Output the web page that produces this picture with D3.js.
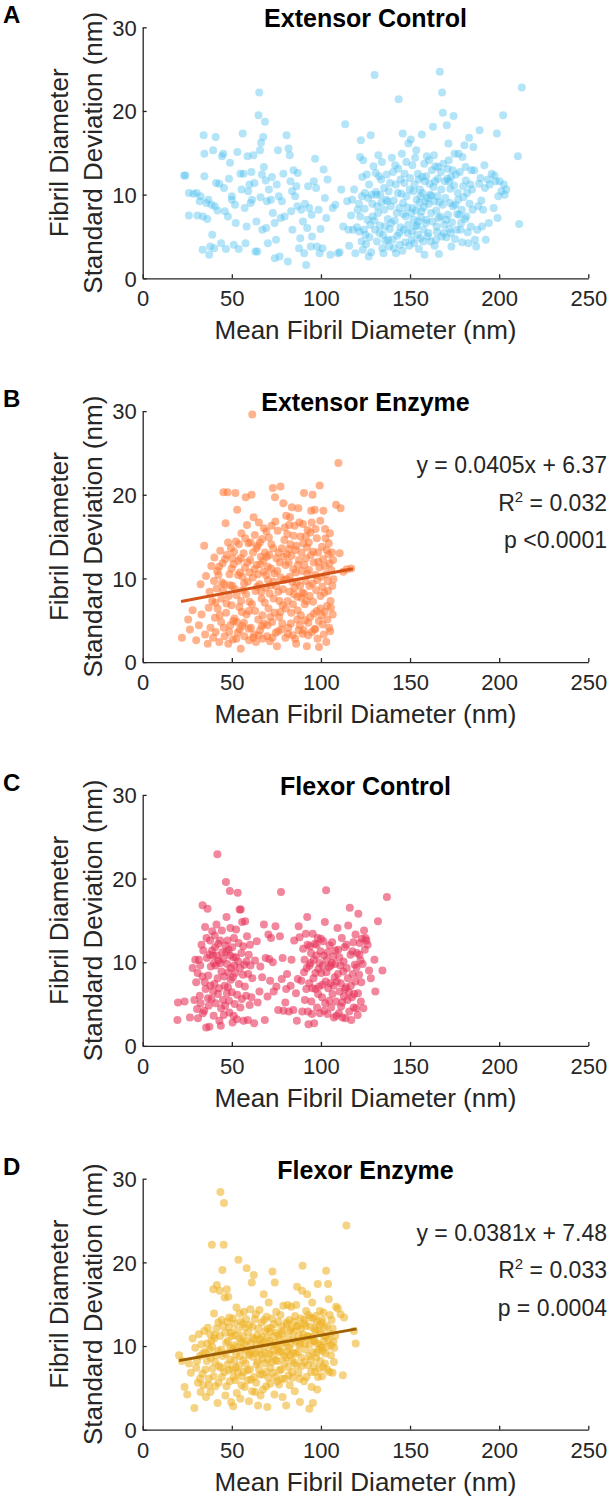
<!DOCTYPE html>
<html>
<head>
<meta charset="utf-8">
<script src="https://cdn.jsdelivr.net/npm/d3@7"></script>
<style>
  body { margin: 0; background: #fff; }
  text { font-family: "Liberation Sans", Arial, sans-serif; }
</style>
</head>
<body>
<svg id="chart" width="614" height="1500"></svg>
<script>
// axis ticks
const xTicks = [0, 50, 100, 150, 200, 250];
const yTicks = [0, 10, 20, 30];

const panelLetters = ["A", "B", "C", "D"];
const panelTitles = ["Extensor Control", "Extensor Enzyme", "Flexor Control", "Flexor Enzyme"];

// [mean diameter, std dev]
const extensorControl = [
  [23.2,12.3],[24,12.3],[25.9,10.2],[25.9,7.5],[30.3,10.2],[30.7,7.5],[32,9.2],[32.5,9.8],[33.8,7.4],[34.2,17.1],
  [34.6,12.2],[33.6,3.4],[34.6,14.9],[35.7,9],[36.8,9.4],[37.3,2.8],[37.9,3.8],[38.6,8.8],[39,5.2],[39.5,15.3],
  [40.9,16.9],[40.4,8.6],[40.1,3.6],[41.2,11.4],[43,11.3],[44.5,14.6],[45.2,14.9],[45.6,10.8],[46.1,8],[46.7,3.5],
  [47.8,7.4],[49,13.8],[50,9.8],[50,9.4],[51.1,4],[51.8,8.8],[53.1,15.1],[53.9,3.5],[54.8,12.5],[55.5,10.6],
  [56.1,17.3],[56.6,12.5],[57.7,4.2],[58.3,6.2],[58.8,14.6],[59.2,10.4],[59.9,11.2],[60.5,9],[61.4,9.4],[62.1,14.7],
  [62.7,11.4],[63.2,3.2],[64.3,3.2],[65,19.5],[65.4,22.2],[65.8,15.3],[66.4,16.2],[66.9,12.4],[67.1,5.8],[67.6,16.9],
  [68,13.3],[68.6,18.7],[69.3,6],[69.7,9.2],[70.2,4.2],[70.8,10.6],[71.9,9.4],[73,7.8],[74.1,2.4],[74.8,4.6],
  [75.2,11.2],[75.9,15.3],[76.8,2.6],[77.4,7.2],[78.1,9.2],[78.9,12.5],[80.7,17.1],[81.4,2],[81.8,15.5],[82.5,14.7],
  [82.9,11.6],[83.3,8],[84,5.8],[84.6,12.9],[85.5,9.8],[86.2,11],[86.8,8.6],[87.7,3.6],[88.4,4.8],[89,8.2],
  [89.9,6.8],[90.6,3],[91.7,1.6],[92.3,6],[92.8,11],[93.4,8.4],[94.3,3.8],[95,5],[96,11.6],[96.7,14.3],
  [97.8,3.8],[98.7,8.2],[99.3,3],[100.9,3.6],[101.5,13],[102.2,9.6],[103,7.2],[103.7,11.8],[105.3,2.8],[106.6,8.4],
  [108.1,8.8],[109.6,3],[110.5,3.1],[111.4,10.6],[112.5,6.2],[113.6,18.4],[114.7,9.2],[115.4,5.8],[115.8,3.9],[116.9,7.5],
  [117.5,9.4],[118,5.8],[118.6,10.6],[119.3,3],[120.6,8.2],[121.3,8.9],[121.9,14.5],[122.4,16.5],[122.8,4.4],[123.5,3.4],
  [123.7,14.1],[124.1,5.8],[124.6,10.2],[125,5.2],[125.7,12.4],[126.1,7],[126.8,2.6],[127.2,4.9],[127.9,17.1],[128.5,10],
  [129,7.4],[130.1,24.3],[130.3,5.8],[130.7,12.6],[131.1,10],[131.6,8.6],[132.2,14.7],[132.9,5.4],[133.3,10],[133.8,11.8],
  [134.4,3.6],[135.1,3],[135.5,8.2],[136,6.2],[136.6,9.4],[137.3,9.2],[137.7,4.6],[138.2,3.8],[138.8,11.4],[139.5,6.6],
  [140.4,12.7],[141,3.6],[141.7,13.5],[142.1,3],[142.5,7.8],[143.2,10.2],[143.6,21.4],[143.9,5.4],[144.3,4],[144.7,11.8],
  [145.4,14.9],[145.9,17.3],[146.1,9],[146.5,5.8],[146.9,12.5],[147.6,7.4],[148,9.8],[148.7,5.4],[149.1,16.1],[149.8,10.6],
  [150.4,16.6],[150.9,4.6],[151.3,13.5],[151.5,8.4],[152,7],[152.4,11.2],[153.1,6.2],[153.5,15.3],[153.7,9.4],[154.2,5.2],
  [154.6,6.8],[154.8,11.8],[155.3,9],[155.7,4.8],[155.9,9.8],[156.4,8],[156.6,17.2],[157,10.2],[157.5,5.8],[157.9,13.7],
  [158.1,2.8],[158.6,9.2],[159,12.2],[159.2,7],[159.7,9.6],[160.3,5.4],[160.7,14.1],[161.2,10],[161.8,7.8],[162.3,12.9],
  [162.9,18.1],[163.4,14.7],[163.6,9.2],[164,11.6],[164.5,4.6],[164.9,6.2],[165.4,9.8],[165.8,13.3],[166.2,2.9],[166.7,24.7],
  [167.1,7.4],[167.5,10.6],[168,22.2],[168.4,19.8],[168.9,5.4],[169.5,11.6],[170.2,7],[170.6,18.3],[171.1,13.1],[171.5,16.1],
  [171.9,11.6],[172.4,9],[172.8,5.4],[173.2,3.8],[173.9,12.9],[174.4,19.4],[175,14.9],[175.4,8.8],[176.1,5.8],[176.8,10.2],
  [177.2,14.9],[177.6,7.6],[178.3,5.8],[179,8.2],[179.4,14.5],[179.8,11],[180.5,15.9],[181.1,13.3],[181.6,7.4],[182,10.2],
  [182.7,4.2],[183.1,16.8],[183.8,11.2],[184.4,12.9],[185.1,8.2],[185.5,15.7],[186.4,4.6],[187.1,3.8],[187.7,5.8],[188.2,8.6],
  [189,17.7],[189.5,12],[190.4,6.2],[191,8.2],[191.7,13.5],[192.5,4.6],[193.6,11.8],[194.7,11.2],[195.8,12.5],[196.9,8.4],
  [198,11.6],[198.7,17.3],[199.1,7.2],[200.2,11.6],[201.3,10.4],[202.2,19.5],[203.1,10],[204,10.6],[210.5,14.6],[211.2,6.5],
  [212.7,22.8]
];
const extensorControlMore = [
  [120.2,6.1],[121.5,5.6],[122,7.4],[123,9.8],[123.2,12.1],[124.5,8.3],[125.3,4.1],[126.5,9.6],[127,11.2],[127.6,6.4],
  [128.2,3.1],[128.8,8.9],[129.5,13.4],[130,6.9],[130.8,10.3],[131.4,4.4],[132,7.8],[132.6,12.2],[133,6.3],[133.9,9.1],
  [134.2,13.9],[134.8,5.2],[135.4,10.8],[136.2,4.5],[136.9,12.4],[137.5,7.1],[138,10.4],[138.6,5.9],[139.2,8.6],[139.8,14.4],
  [140.2,4.6],[140.9,9.3],[141.4,6.9],[142,11.2],[142.8,5.1],[143.4,13.1],[144,8.4],[144.6,6.1],[145.1,10.1],[145.7,3.3],
  [146.3,7.7],[146.8,11.4],[147.3,4.3],[147.9,13.9],[148.4,8.5],[148.9,6.4],[149.5,3.9],[150,12],[150.6,7.8],[151,5.6],
  [151.8,10.4],[152.2,4.2],[152.8,14.4],[153.3,8.1],[153.9,6.3],[154.4,12.5],[155,3.5],[155.5,10.6],[156,7.3],[156.8,12.1],
  [157.3,4.4],[157.7,8.5],[158.3,11.6],[158.8,6.6],[159.4,14.6],[159.9,5],[160.5,8.9],[161,11.3],[161.5,4.4],[162,9.9],
  [162.6,6.8],[163.1,10.9],[163.8,3.9],[164.2,13.4],[164.7,8.1],[165.1,5.5],[165.6,11.9],[166,7.2],[166.5,9.1],[167.3,12.7],
  [167.8,5],[168.2,8.8],[168.6,13.7],[169.2,6.4],[169.8,9.6],[170.4,4.9],[170.9,11.9],[171.3,7.6],[171.7,14.1],[172.1,5.9],
  [172.6,10.7],[173,12.1],[173.5,6.7],[174.1,8.6],[174.7,11.1],[175.2,4.7],[175.7,12.4],[176.4,7.7],[177,9.4],[177.9,12.7],
  [178.6,6.6],[179.2,4.3],[180,9.7],[180.8,7.1],[181.3,11.7],[182.3,5.5],[183.4,8.9],[184.1,6.2],[184.8,10.6],
  [28.5,10.1],[36.2,7.1],[42,8.1],[44,4.2],[48.4,11.9],[52.2,6.6],[57.2,8.4],[61,12.7],[63.8,6.8],[66.1,9.7],
  [69,11.7],[72.5,12.1],[74,6.6],[76.4,9.8],[79.6,7.4],[83.8,10.4],[87,12.6],[91,8.9],[94.8,7.6],[97.3,10.8],[99.8,5.9],
  [186,12.9],[188.7,11.3],[190,9.3],[192,10.8],[194.2,6.6],[197.4,12.3],[199.5,9.8],[202.6,11.2]
];

const extensorEnzyme = [
  [22,2.9],[25.5,5.1],[26.5,3.9],[28,6.2],[30,2.6],[31.5,4.4],[32.5,9.3],[33,5.7],[34.5,13.9],[35,3.3],
  [35.5,10.3],[36.5,2.2],[37,6.5],[37.5,8.4],[38,4.1],[38.5,11.5],[39,7.3],[39.5,2.9],[40,9.7],[40.2,12.5],
  [40.5,5.3],[41,3.6],[41.5,8.8],[42,6.4],[42.5,10.4],[43,2.4],[43.5,13.3],[44,4.8],[44.2,7.6],[44.8,11.8],
  [45.3,20.3],[45.7,9.3],[46,3.1],[46.5,16.6],[46.8,5.9],[47.2,12.8],[47.6,20.3],[48,2.2],[48.3,7.9],[48.7,10.5],
  [49.2,4.4],[49.5,13.6],[49.8,6.8],[50.3,9.1],[50.6,2.7],[51,11.7],[51.5,5.2],[52,20.2],[52.3,14.4],[52.7,8],
  [53,18.2],[53.3,3.5],[53.8,12.1],[54.2,6.6],[54.6,10.7],[55,1.6],[55.4,15.4],[55.8,4.3],[56.2,8.6],[56.6,13],
  [57,3.1],[57.4,11.3],[57.8,19.7],[58.2,5.7],[58.5,16.4],[58.9,9.6],[59.3,14.2],[59.7,2.6],[59.9,7.2],[60.3,12.2],
  [60.7,4.1],[61.1,20],[61.5,29.6],[61.8,10.1],[62.2,17.3],[62.5,3.3],[62.9,15.2],[63.3,8.5],[63.6,2.4],[64,11.6],
  [64.4,13.9],[64.8,5.1],[65.2,16.7],[65.5,9.3],[65.9,3.8],[66.3,12.6],[66.7,7.6],[67,14.7],[67.4,2.8],[67.8,10.8],
  [68.2,4.6],[68.6,13.1],[69,8.9],[69.4,15.6],[69.8,3.1],[70.2,11.4],[70.6,6.4],[71,12.8],[71.4,2.5],[71.8,9.2],
  [72.2,14.1],[72.6,4.8],[73,20.8],[73.4,7.6],[73.8,10.6],[74.2,19.7],[74.6,3.5],[75,12.4],[75.3,1.9],[75.7,15.7],
  [76.1,8.4],[76.5,5.4],[76.9,11.9],[77.3,21],[77.7,3.9],[78.1,13.6],[78.5,6.8],[78.9,19],[79.3,9.8],[79.7,16.1],
  [80.1,2.9],[80.5,17.5],[80.9,12.9],[81.3,7.3],[81.7,4.1],[82.1,16.4],[82.5,10.2],[82.9,14.1],[83.3,5.9],[83.7,18.5],
  [84.1,3.2],[84.5,11.1],[84.9,8.1],[85.3,16.3],[85.7,13.4],[86.1,2.2],[86.5,9.5],[86.9,6.2],[87.3,18.4],[87.7,12.2],
  [88.1,4.4],[88.5,15],[88.9,7.7],[89.3,10.9],[89.7,3.4],[90.1,14.2],[90.5,20.2],[90.9,6.9],[91.3,9.7],[91.7,12.4],
  [92.1,1.9],[92.5,15.8],[92.9,4.7],[93.3,11],[93.7,7.9],[94.1,15.5],[94.5,18.1],[94.9,3.6],[95.3,20],[95.7,13.2],
  [96.1,5.8],[96.5,18.2],[96.9,10.4],[97.3,8.6],[97.7,14.8],[98.1,2.8],[98.5,12],[98.9,1.8],[99.3,21.1],[99.7,6.4],
  [100.2,10.2],[100.6,13.8],[101,4.5],[101.4,18.1],[101.8,8.3],[102.2,11.5],[102.6,14.8],[103,2.4],[103.4,6.7],[103.8,9.7],
  [104.2,12.9],[104.6,4.1],[105,15.4],[105.4,7.3],[105.8,11],[106.2,13.1],[106.6,5.7],[107,9.9],[108.5,18.8],[109.8,23.8],
  [110.5,13],[111,18.4],[112.5,10.8],[114.5,11.1],[117,11.2],
  [45.1,8.6],[50.4,12.4],[55.2,7.3],[59.6,6.1],[64.7,10.5],[70.3,9.8],[74.8,9.1],[80.2,11.6],[85.1,8.9],[90.4,8.2],
  [95.2,9.4],[99.8,7.9],[61.9,13.1],[72.3,16.3],[82.2,13.5],[92.2,13.7],[56.9,9.4],[66.8,4.3],[77.2,6],[86.7,5.1],
  [96.8,4],[102.3,15.9],[52.8,4.8],[42.9,11.4]
];
const extensorEnzymeMore = [
  [40.8,7.1],[41.8,10.9],[43.2,5.6],[44.5,9.5],[45.5,4.1],[46.2,12.3],[47,7],[47.9,14.3],[48.5,3.6],[49,9.2],
  [49.9,11.2],[50.8,4.9],[51.3,13.2],[51.8,8.7],[52.5,2.8],[53.5,10.4],[54,14.1],[54.4,3.9],[55,12.4],[55.6,6],
  [56,10.2],[56.8,4.7],[57.5,14.8],[58,8.1],[58.7,11.9],[59.5,4],[60,10.7],[60.5,14.3],[61.3,6.9],[62,2.9],
  [62.7,11.1],[63.1,6.1],[63.8,13.6],[64.2,9],[65,3.2],[65.7,14.3],[66,11.7],[66.5,8.4],[67.2,5.6],[67.6,12.1],
  [68,16],[68.5,7.1],[69.2,10.4],[69.6,12.6],[70,4.4],[70.8,14.9],[71.2,8.2],[71.6,5.4],[72,11.2],[72.8,2.9],
  [73.2,13.6],[73.6,9.6],[74,5.9],[74.4,16.8],[75.5,10.9],[75.9,3.7],[76.3,13.1],[76.7,7.3],[77.5,10.1],[78.3,4.6],
  [78.7,8.7],[79.1,12.6],[79.5,14.6],[80.3,6.4],[80.7,9.9],[81.1,15.3],[81.5,3.4],[81.9,11.9],[82.3,8.4],[82.7,17.3],
  [83.1,4.6],[83.5,12.7],[83.9,9.6],[84.3,6.9],[84.7,15.1],[85.5,2.8],[85.9,10.7],[86.3,13.9],[86.8,7.8],[87.1,11.6],
  [87.5,3.8],[87.9,16.7],[88.3,9.1],[88.7,5.6],[89.1,13.1],[89.5,8.3],[89.9,16.5],[90.3,3.8],[90.7,11.6],[91.1,5],
  [91.5,15],[91.9,7.3],[92.4,10.6],[92.8,3.2],[93.2,14.3],[93.6,9.1],[94,5.4],[94.4,12.8],[94.8,16.7],[95.6,7.2],
  [96,11.9],[96.4,3.9],[97,15.9],[97.6,6.1],[98,9.8],[98.4,13.1],[98.8,4.9],[99.2,11.3],[99.6,16.9],[100.4,5.6],
  [100.8,9],[101.2,12.3],[101.6,3.3],[102,6],[102.8,10.5],[103.2,13.4],[103.6,5.1],[104,8.5],[104.4,14.2],[104.8,11.8],
  [105.2,3.7],[105.6,6.5],[106.4,9.1],[106.8,12.2]
];

const flexorControl = [
  [19.5,3.1],[19.8,5.2],[23.5,5.3],[26.5,3.4],[28,9.3],[29,5.5],[29.5,10.3],[30,7.6],[30.5,4.4],[31,3.3],
  [31.5,10.3],[32,6],[32.5,5.1],[33,12.1],[33.5,8.3],[33.6,16.8],[34,11.4],[34.5,4.2],[35,14.2],[35.3,6.8],
  [35.6,2.2],[36,10.5],[36.4,16.4],[36.8,8.4],[37,4.8],[37.4,2.3],[37.8,12.6],[38.2,9.5],[38.6,5.6],[39,13.7],
  [39.4,10.8],[39.8,3.6],[40.2,7.4],[40.6,11.8],[41,9.6],[41.4,14.5],[41.9,22.9],[42.2,6.2],[42.6,10.2],[43,3],
  [43.4,12.6],[43.8,2.4],[44.2,8.9],[44.6,11.2],[45,5.5],[45.5,3.7],[46,7.2],[46.4,12],[46.7,19.6],[47,15.4],
  [47.4,9.8],[47.8,7],[48.2,11.5],[48.6,4],[48.9,18.5],[49.2,14.1],[49.6,9.3],[50,6.4],[50.4,2.8],[50.8,10.6],
  [51.2,12.9],[51.6,5],[52,8.7],[52.4,13.9],[52.8,3.2],[53.3,18.3],[53.6,10.1],[54,7.4],[54.4,16.3],[54.8,4.6],
  [55,16.3],[55.4,11.1],[55.8,14.8],[56.2,8.5],[56.6,3],[57,9.7],[57.5,14.9],[58,6],[58.5,13.1],[59,3.1],
  [59.5,10.9],[60,4.9],[60.5,9.6],[61,5.8],[61.5,8.1],[62.5,2.7],[63,10.2],[64,12.5],[64.5,5.2],[65.5,6.5],
  [66,9.5],[67,8.2],[68,14.5],[68.5,3.1],[69,10.5],[70,5.9],[70.5,13.3],[71,10.4],[71.5,7.8],[72,12.9],
  [73,10],[73.5,6.5],[74.5,14.3],[75,7.1],[76,4.3],[77,13.1],[77.6,18.4],[78,8],[78.5,10.5],[79,4.2],
  [80,5.2],[80.5,6.8],[81,8.6],[82,4.1],[83,7.2],[83.5,10.3],[84.5,4.3],[85,12.6],[86,6.3],[86.5,3],
  [87,8],[87.5,14.3],[88,13],[89,7.8],[89.5,4.1],[90,11.6],[90.5,8.8],[91,5.5],[91.5,13.4],[92,9.3],
  [92.3,15.4],[92.7,4.1],[93,2.6],[93.4,7.5],[93.8,11.9],[94.2,9.9],[94.6,5.3],[95,3.8],[95.4,13.4],[95.8,8.1],
  [96.2,2.7],[96.6,12.2],[97,6.8],[97.4,10.8],[97.8,4.6],[98.2,12.9],[98.6,9.2],[99,7.1],[99.4,3.9],[99.8,11.3],
  [100.2,8.7],[100.6,5.8],[101,9.6],[101.4,12.5],[101.8,4.2],[102.2,14.8],[102.6,7.7],[102.9,18.6],[103.3,10.3],[103.7,3.8],
  [104.1,6.9],[104.5,9.4],[104.9,12],[105.3,7.5],[105.7,4.6],[106.1,9.9],[106.5,6.2],[106.9,10.7],[107.3,3.4],[107.7,8.2],
  [108.1,11.4],[108.5,5.3],[108.9,7.7],[109.3,14.1],[109.7,11.5],[110.1,3.9],[110.5,6.5],[110.9,9.6],[111.3,4.7],[111.7,12.9],
  [112.1,3.4],[112.5,8.9],[112.9,5.9],[113.3,11.8],[113.7,3.3],[114.1,7],[114.5,9.3],[114.9,5.5],[115.3,14.4],[115.7,6.4],
  [116.2,16.5],[116.6,10.9],[117,3.1],[117.4,5.8],[117.8,8.6],[118.2,12.4],[118.6,6.2],[119,9.7],[119.4,13.3],[119.8,4.5],
  [120.2,11.1],[120.6,3.7],[121,15.8],[121.4,8.5],[121.8,12.3],[122.2,10.2],[122.6,7.6],[123,12.8],[123.4,9.8],[123.8,4.5],
  [124.2,13.8],[124.6,11.5],[125,12.9],[125.5,12.6],[126.2,12.1],[127,9],[128,8.1],[130,10.3],[130.5,6.5],[132,14.9],
  [134.5,9],[137,17.8]
];
const flexorControlMore = [
  [30.8,8.7],[32.3,9.6],[33.8,3.9],[34.8,7.6],[35.8,12.9],[36.6,5.7],[37.6,10.9],[38,7.2],[38.9,11.4],[39.5,6.5],
  [40,9.9],[40.4,13.2],[40.9,5.1],[41.6,10.8],[42,8.1],[42.4,12.2],[42.9,6.9],[43.6,9.9],[44,4.5],[44.4,13.8],
  [45.2,10.4],[45.8,8.3],[46.2,4.8],[46.8,11.2],[47.2,6.3],[47.6,12.6],[48,8.8],[48.4,5.4],[49,10.8],[49.4,7.9],
  [50.2,11.8],[50.6,8.2],[51,3.6],[51.4,9.6],[52.2,10.6],[53,6.1],[53.8,12.3],[54.6,9.3],[55.6,5.6],[56.4,11.9],
  [57.3,7.1],[58.2,10.1],[59.2,8.6],[60.2,12.1],
  [90.8,10.3],[91.8,6.8],[92.5,12.1],[93.6,9.6],[94.4,11.1],[95.2,6.9],[96,10.3],[96.9,8.7],[97.6,12.1],[98.4,6.2],
  [99.2,9.9],[100,12.8],[100.8,7.3],[101.6,10.8],[102.4,5.1],[103.1,8.8],[103.9,11.2],[104.7,5.4],[105.5,9.6],[106.3,12.4],
  [107.1,7.2],[107.9,9.8],[108.7,3.6],[109.5,8.6],[110.3,10.6],[111.1,7.5],[111.9,5.2],[112.7,10.1],[113.5,6.8],[114.3,12.1],
  [115.1,8.1],[115.9,4.1],[116.8,7.2],[117.6,11.3],[118.4,4.6],[119.2,7.7],[120,9.4],[120.8,6.3],[121.6,10.9],[122.4,5.3]
];

const flexorEnzyme = [
  [20.4,8.9],[22,8.2],[23.5,5.1],[25,4.2],[26,7.9],[27,6.8],[28,10.9],[29,2.6],[29.5,9.8],[30,7.4],
  [31,5.6],[31.5,11.4],[32,8.8],[32.5,4.5],[33,10.2],[33.5,6.7],[34,5.3],[34.5,11.8],[35,9.3],[35.5,3.9],
  [36,8.2],[36.5,12.2],[37,6.1],[37.5,9.6],[38,4.5],[38.5,10.6],[38.8,22.1],[39.2,7.3],[39.6,16.8],[40,13.9],
  [40.4,11.3],[40.8,5.2],[41.2,8.9],[41.6,17.3],[42,3.2],[42.4,12.8],[42.8,7.6],[43.2,16.6],[43.6,28.4],[44,9.6],
  [44.4,6.3],[44.7,19.1],[45.1,12.4],[45.4,22.1],[45.6,27.1],[46,15.8],[46.4,4.1],[46.8,10.4],[47.2,16.8],[47.6,7.8],
  [48,15.9],[48.4,12.2],[48.8,5.8],[49.2,9.8],[49.6,3.3],[50,11.2],[50.4,7.2],[50.8,2.8],[51.2,10.1],[51.6,12.7],
  [52,5.9],[52.4,9],[52.8,4.4],[53.2,11.9],[53.7,20.3],[54,7.6],[54.4,13.9],[54.8,3.7],[55.2,10.5],[55.6,6.4],
  [56,12.6],[56.4,8.3],[56.8,14.1],[57.2,5.1],[57.6,9.5],[58,13.2],[58.3,19.3],[58.8,7.1],[59.2,11.6],[59.6,3.4],
  [60,9.1],[60.4,14.4],[60.8,6],[61.2,17.6],[61.6,12.3],[62,8.7],[62.3,18.5],[62.7,10.8],[63.1,4.5],[63.5,13.8],
  [63.9,7.8],[64.3,11.3],[64.7,2.9],[65.1,9.4],[65.5,14.3],[65.9,6.6],[66.3,10.2],[66.7,12.8],[67.1,8.5],[67.5,4.8],
  [67.9,16.2],[68.3,9.9],[68.7,11.8],[69.1,6.9],[69.5,13.5],[69.9,2.7],[70.3,8.4],[70.7,15.2],[71.1,10.6],[71.5,5.5],
  [71.9,12.2],[72.3,8.1],[72.8,18.9],[73.1,9.5],[73.5,11.2],[73.9,4.2],[74.1,17.6],[74.5,6.3],[74.9,14.1],[75.3,10.1],
  [75.7,8.2],[76.1,12.9],[76.5,5.4],[76.9,9.3],[77.3,13.7],[77.7,7.2],[78.1,11.5],[78.5,3.9],[78.9,14.8],[79.3,8.8],
  [79.7,6.1],[80.1,10.4],[80.5,2.9],[80.9,12.6],[81.3,14.9],[81.7,7.5],[82.1,9.8],[82.5,5.3],[82.9,11.9],[83.3,14.7],
  [83.7,8.3],[84.1,6.2],[84.5,10.8],[84.9,12.9],[85.3,4.6],[85.7,9.1],[86.1,14.9],[86.6,17.1],[87,12.4],[87.4,6.8],
  [87.8,10.1],[88.2,3.3],[88.6,13.3],[89,8.6],[89.4,16.6],[89.7,19.6],[90.1,11.4],[90.5,5.8],[90.9,12.7],[91.3,9.6],
  [91.7,14.2],[92.3,16.2],[92.7,7.7],[93.1,11.1],[93.5,2.5],[93.9,13.4],[94.3,8.4],[94.7,5.1],[95.1,15.2],[95.5,3.2],
  [95.9,10.6],[96.3,12.1],[96.7,6.9],[97.1,13.6],[97.5,9.2],[97.9,4.8],[98.2,17.4],[98.6,11.9],[99,7.3],[99.4,14.2],
  [99.8,10.1],[100.2,12.8],[100.6,6.4],[101,9.4],[101.4,14],[101.8,11.2],[102.2,7.9],[102.9,19],[103.3,12.4],[103.7,9.9],
  [104,17.4],[104.4,15.6],[104.8,6.9],[105.2,11.5],[105.6,8.9],[106,13.1],[106.5,6.8],[107,10.5],[107.5,9.8],[108.5,14.7],
  [109.5,14.5],[111,13.8],[112.3,6.5],[113,13.4],[114.3,24.4],[118.5,11.8],[119.5,10.3]
];
const flexorEnzymeMore = [
  [30.5,8.2],[32.2,6.1],[33.8,9.1],[35.2,7.2],[36.2,10.3],[37.2,5.3],[37.8,11.4],[38.2,8.6],[39,9.9],[39.8,6.4],
  [40.2,10.9],[40.6,8.1],[41.4,12.1],[42.2,9.4],[42.6,5.6],[43.4,11.2],[43.8,7.4],[44.2,13.1],[44.9,8.8],[45.8,6.9],
  [46.2,11.6],[46.6,9.1],[47,5.2],[47.4,12.9],[47.8,10.6],[48.2,7.1],[48.6,13.4],[49,8.4],[49.4,11.6],[50.2,9.6],
  [50.6,13.3],[51,6.3],[51.4,8.2],[51.8,11.3],[52.2,7.4],[52.6,14.6],[53,9.9],[53.4,6.8],[54.2,10.9],[54.6,8.8],
  [55,12.9],[55.4,5.3],[55.8,9.7],[56.2,11.2],[56.6,6.9],[57,10.3],[57.4,12.2],[57.8,7.9],[58.6,10.6],[59,5.9],
  [59.4,8.9],[59.8,12.5],[60.2,7.2],[60.6,10.3],[61,9.4],[61.4,4.6],[61.8,11],[62.5,6.3],[62.9,13.2],[63.3,9.1],
  [63.7,5.6],[64.1,10.2],[64.5,8.1],[64.9,12.1],[65.3,7.2],[65.7,10.8],[66.1,4.1],[66.5,9],[66.9,11.1],[67.3,6.6],
  [67.7,10.4],[68.1,13.1],[68.5,7.9],[68.9,9.2],[69.3,5.2],[69.7,10.9],[70.1,12.1],[70.5,6.2],[70.9,9.1],[71.3,11.7],
  [71.7,7.4],[72.1,10.1],[72.5,13.3],[73,6.8],[73.3,8.9],[73.7,12.6],[74.3,10.4],[74.7,8.3],[75.1,11.6],[75.5,5.8],
  [75.9,9.6],[76.3,11.3],[76.7,7.1],[77.1,10.8],[77.5,9.4],[77.9,12.3],[78.3,6.1],[78.7,10.3],[79.1,11.9],[79.5,7.9],
  [80.3,8.6],[80.7,12.8],[81.1,9.4],[81.5,11.1],[81.9,6.5],[82.3,13.1],[82.7,8.9],[83.1,10.2],[83.5,12.1],[83.9,6.9],
  [84.3,9.2],[84.7,11.7],[85.1,8],[85.5,13.6],[85.9,10.6],[86.3,7.7],[86.8,12.4],[87.2,9.3],[87.6,11.3],[88,6.1],
  [88.4,10.3],[88.8,12.1],[89.2,7.6],[89.6,10.9],[90.3,13.1],[90.7,8.1],[91.1,10.3],[91.5,12.4],[91.9,6.3],[92.5,11.2],
  [92.9,13.7],[93.3,8.8],[93.7,10.2],[94.1,12.3],[94.5,6.9],[94.9,11.1],[95.3,9.3],[95.7,13.3],[96.1,7.6],[96.5,10.6],
  [96.9,11.8],[97.3,8.6],[97.7,12.9],[98,10.3],[98.4,6.3],[98.8,9.6],[99.2,12.5],[99.6,8.2],[100,11.5],[100.4,9.8],
  [100.8,13.1],[101.2,7.5],[101.6,10.5],[102,12.2],[102.4,9.1],[103,11.1],[103.5,7.2],[104.2,10.7],[105,13.7],[105.8,10.1],
  [106.6,12.1],[107.3,8.1],[108,11.2]
];

// linear fits shown in B and D: [slope, intercept], x range, printed stats
const fitCoefs = [null, [0.0405, 6.37], null, [0.0381, 7.48]];
const fitRanges = [null, [21.5, 118], null, [20.4, 120]];
const fitTexts = [null, ["y = 0.0405x + 6.37", "0.032", "p <0.0001"], null, ["y = 0.0381x + 7.48", "0.033", "p = 0.0004"]];

const pointColors = ["#4DBEEE", "#FF7A38", "#E8365B", "#EDB120"];
const pointOpacity = [0.42, 0.58, 0.6, 0.56];
const lineColors = [null, "#D45318", null, "#9E6000"];

const allData = [
    extensorControl.concat(extensorControlMore),
    extensorEnzyme.concat(extensorEnzymeMore),
    flexorControl.concat(flexorControlMore),
    flexorEnzyme.concat(flexorEnzymeMore)
];

const left = 142.7, plotW = 445.6, plotH = 251;
const firstTop = 27.3, panelStep = 383.8;
const axisColor = "#262626";

const svg = d3.select("#chart");

const x = d3.scaleLinear().domain([0, 250]).range([0, plotW]);
const y = d3.scaleLinear().domain([0, 30]).range([plotH, 0]);

allData.forEach(function(data, i) {
    const top = firstTop + i * panelStep;
    const g = svg.append("g").attr("transform", `translate(${left},${top})`);

    // panel letter and title
    svg.append("text")
        .attr("x", 3).attr("y", top - 4)
        .style("font-size", "24px").style("font-weight", "bold")
        .text(panelLetters[i]);
    g.append("text")
        .attr("x", plotW / 2).attr("y", 0)
        .attr("text-anchor", "middle")
        .style("font-size", "25px").style("font-weight", "bold")
        .text(panelTitles[i]);

    // points
    g.selectAll("circle")
        .data(data).enter()
        .append("circle")
        .attr("cx", d => x(d[0]))
        .attr("cy", d => y(d[1]))
        .attr("r", 4)
        .style("fill", pointColors[i])
        .style("fill-opacity", pointOpacity[i]);

    // regression line
    if (fitCoefs[i]) {
        const [m, b] = fitCoefs[i];
        g.append("line")
            .attr("x1", x(fitRanges[i][0])).attr("y1", y(m * fitRanges[i][0] + b))
            .attr("x2", x(fitRanges[i][1])).attr("y2", y(m * fitRanges[i][1] + b))
            .style("stroke", lineColors[i])
            .style("stroke-width", 3);

        const tx = 607 - left;
        const eq = g.append("g").attr("text-anchor", "end").style("font-size", "23px").style("fill", axisColor);
        eq.append("text").attr("x", tx).attr("y", 62).text(fitTexts[i][0]);
        const r2 = eq.append("text").attr("x", tx).attr("y", 99.5);
        r2.append("tspan").text("R");
        r2.append("tspan").attr("dy", -9).style("font-size", "15px").text("2");
        r2.append("tspan").attr("dy", 9).text(" = " + fitTexts[i][1]);
        eq.append("text").attr("x", tx).attr("y", 137).text(fitTexts[i][2]);
    }

    // axes
    const xAxis = g.append("g")
        .attr("transform", `translate(0,${plotH})`)
        .call(d3.axisBottom(x).tickValues(xTicks).tickSizeInner(-4).tickSizeOuter(0));
    xAxis.selectAll("text").attr("y", 28).attr("dy", null);

    const yAxis = g.append("g")
        .call(d3.axisLeft(y).tickValues(yTicks).tickSizeInner(-4).tickSizeOuter(0).tickPadding(6));
    yAxis.selectAll("text").attr("dy", "0.35em");

    [xAxis, yAxis].forEach(function(ax) {
        ax.select(".domain").style("stroke", axisColor).style("stroke-width", 1.3);
        ax.selectAll(".tick line").style("stroke", axisColor).style("stroke-width", 1.3);
        ax.selectAll("text")
            .style("font-family", '"Liberation Sans", Arial, sans-serif')
            .style("font-size", "22px").style("fill", axisColor);
    });

    // axis labels
    g.append("text")
        .attr("x", plotW / 2).attr("y", plotH + 61)
        .attr("text-anchor", "middle")
        .style("font-size", "26px").style("fill", axisColor)
        .text("Mean Fibril Diameter (nm)");

    const yl = g.append("text")
        .attr("transform", `translate(${68.3 - left},${plotH / 2}) rotate(-90)`)
        .attr("text-anchor", "middle")
        .style("font-size", "26px").style("fill", axisColor);
    yl.append("tspan").attr("x", 0).attr("y", 0).text("Fibril Diameter");
    yl.append("tspan").attr("x", 0).attr("y", 33.4).text("Standard Deviation (nm)");
});
</script>
</body>
</html>
